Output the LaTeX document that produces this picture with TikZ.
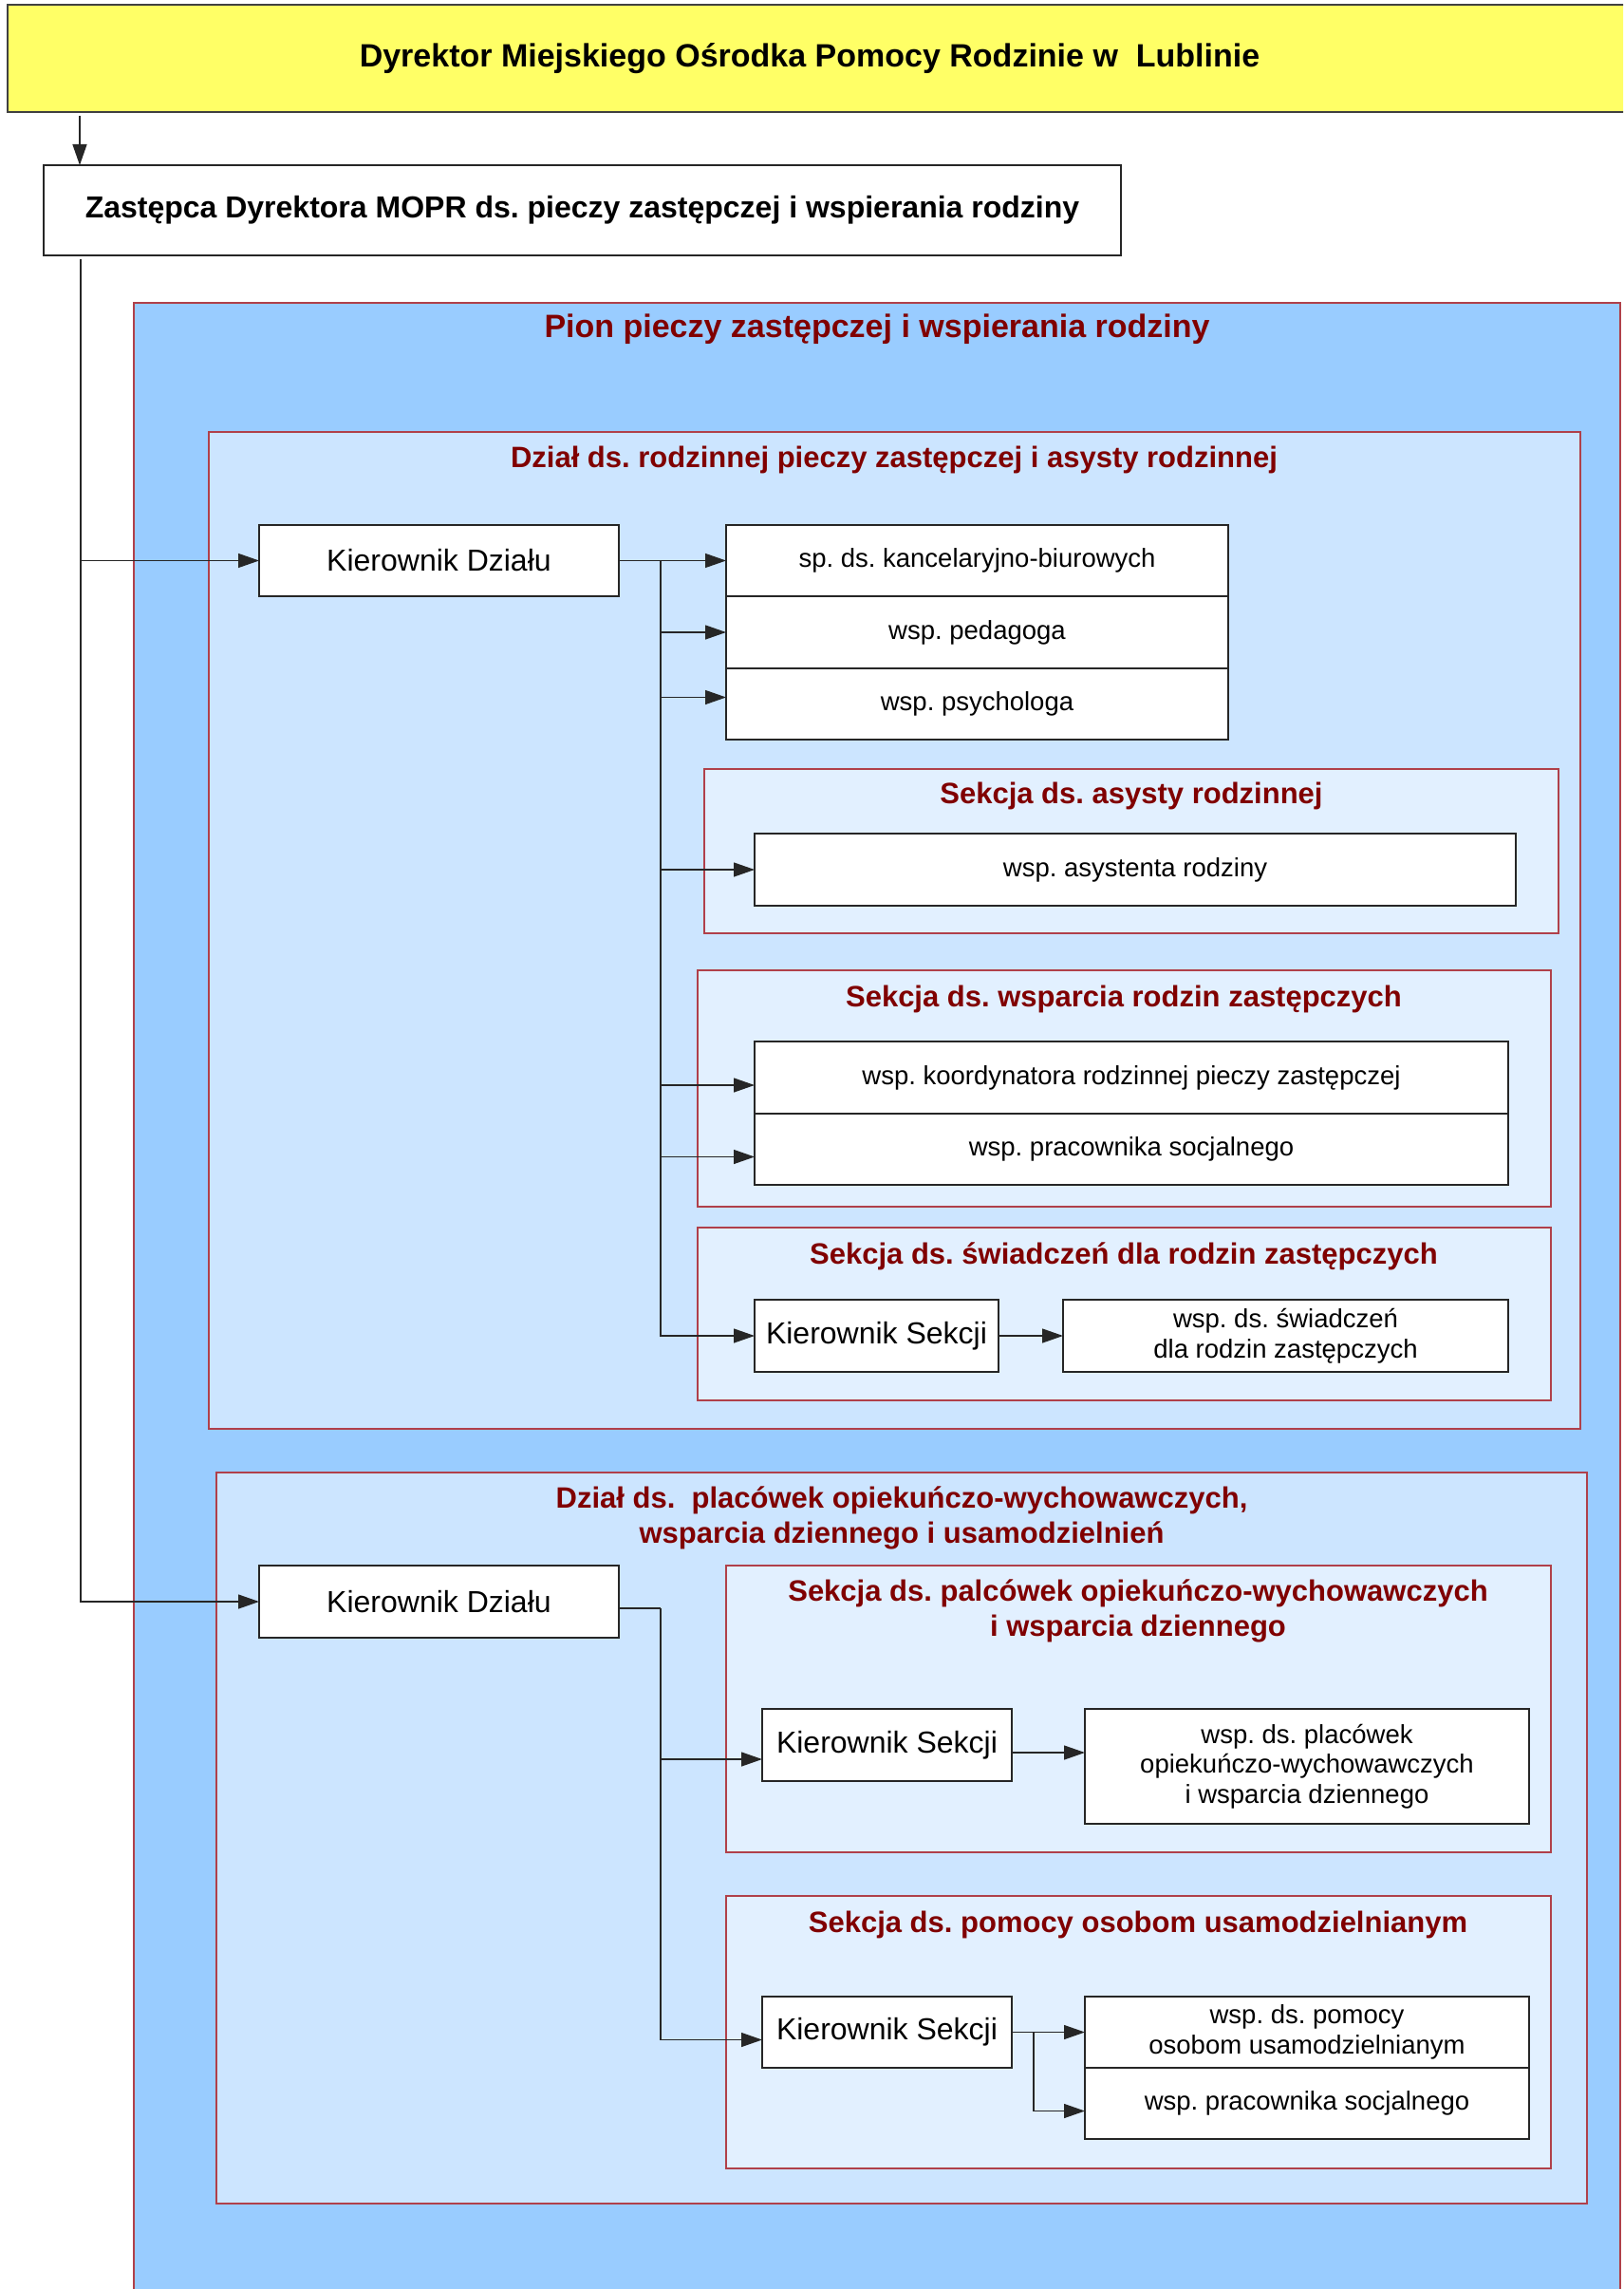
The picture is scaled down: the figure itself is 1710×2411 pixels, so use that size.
\documentclass[tikz,border=0pt]{standalone}
\usepackage{fontspec}
\setmainfont{Liberation Sans}
\usetikzlibrary{arrows.meta,calc}
\definecolor{pion}{HTML}{99CCFF}
\definecolor{dzial}{HTML}{CCE5FF}
\definecolor{sekcja}{HTML}{E2F0FF}
\definecolor{ttl}{HTML}{800000}
\definecolor{frame}{HTML}{B0404A}
\definecolor{yel}{HTML}{FFFF66}
\frenchspacing
\begin{document}
\begin{tikzpicture}[x=1pt,y=-1pt,
  cont/.style={draw=frame,line width=1.3pt},
  box/.style={draw=black!85,line width=1.6pt,fill=white,anchor=north west,inner sep=0pt,outer sep=0pt,align=center},
  ttltext/.style={text=ttl,font=\fontsize{31}{37}\selectfont\bfseries,align=center},
  lbl/.style={font=\fontsize{27.5}{31.5}\selectfont},
  klbl/.style={font=\fontsize{32}{36}\selectfont},
  conn/.style={line width=1.3pt,draw=black!85},
  arr/.style={conn,-{Triangle[length=22pt,width=15pt]}}
]
\useasboundingbox (0,0) rectangle (1710,2411);
\clip (0,0) rectangle (1710,2411);
\fill[white] (0,0) rectangle (1710,2411);

% top boxes
\node[box,fill=yel,draw=black!75,minimum width=1712pt,minimum height=113pt] (dyr) at (8,5) {};
\node[font=\fontsize{34}{40}\selectfont\bfseries] (dyrt) at (853,62) {Dyrektor Miejskiego Ośrodka Pomocy Rodzinie w\ \ Lublinie};
\node[box,minimum width=1135pt,minimum height=95pt,font=\fontsize{32}{38}\selectfont\bfseries] (zast) at (46,174) {Zastępca Dyrektora MOPR ds. pieczy zastępczej i wspierania rodziny};

% containers
\path[cont,fill=pion] (141,319) rectangle (1707,2430);
\node[ttltext,font=\fontsize{34}{40}\selectfont\bfseries] (tpion) at (924,347) {Pion pieczy zastępczej i wspierania rodziny};

\path[cont,fill=dzial] (220,455) rectangle (1665,1505);
\node[ttltext] (td1) at (942,484) {Dział ds. rodzinnej pieczy zastępczej i asysty rodzinnej};

\path[cont,fill=sekcja] (742,810) rectangle (1642,983);
\node[ttltext] (ts1) at (1192,838) {Sekcja ds. asysty rodzinnej};

\path[cont,fill=sekcja] (735,1022) rectangle (1634,1271);
\node[ttltext] (ts2) at (1184,1052) {Sekcja ds. wsparcia rodzin zastępczych};

\path[cont,fill=sekcja] (735,1293) rectangle (1634,1475);
\node[ttltext] (ts3) at (1184,1323) {Sekcja ds. świadczeń dla rodzin zastępczych};

\path[cont,fill=dzial] (228,1551) rectangle (1672,2321);
\node[ttltext] (td2) at (950,1599) {Dział ds.\ \ placówek opiekuńczo-wychowawczych,\\wsparcia dziennego i usamodzielnień};

\path[cont,fill=sekcja] (765,1649) rectangle (1634,1951);
\node[ttltext] (ts4) at (1199,1697) {Sekcja ds. palcówek opiekuńczo-wychowawczych\\i wsparcia dziennego};

\path[cont,fill=sekcja] (765,1997) rectangle (1634,2284);
\node[ttltext] (ts5) at (1199,2027) {Sekcja ds. pomocy osobom usamodzielnianym};

% boxes
\node[box,klbl,minimum width=379pt,minimum height=75pt] (kd1) at (273,553) {Kierownik Działu};
\node[box,lbl,minimum width=529pt,minimum height=75pt] (sp) at (765,553) {sp. ds. kancelaryjno-biurowych};
\node[box,lbl,minimum width=529pt,minimum height=76pt] (ped) at (765,628) {wsp. pedagoga};
\node[box,lbl,minimum width=529pt,minimum height=75pt] (psy) at (765,704) {wsp. psychologa};
\node[box,lbl,minimum width=802pt,minimum height=76pt] (asy) at (795,878) {wsp. asystenta rodziny};
\node[box,lbl,minimum width=794pt,minimum height=76pt] (koo) at (795,1097) {wsp. koordynatora rodzinnej pieczy zastępczej};
\node[box,lbl,minimum width=794pt,minimum height=75pt] (pr1) at (795,1173) {wsp. pracownika socjalnego};
\node[box,klbl,minimum width=257pt,minimum height=76pt] (ks1) at (795,1369) {Kierownik Sekcji};
\node[box,lbl,minimum width=469pt,minimum height=76pt] (swi) at (1120,1369) {wsp. ds. świadczeń\\dla rodzin zastępczych};

\node[box,klbl,minimum width=379pt,minimum height=76pt] (kd2) at (273,1649) {Kierownik Działu};
\node[box,klbl,minimum width=263pt,minimum height=76pt] (ks2) at (803,1800) {Kierownik Sekcji};
\node[box,lbl,minimum width=468pt,minimum height=121pt] (pla) at (1143,1800) {wsp. ds. placówek\\opiekuńczo-wychowawczych\\i wsparcia dziennego};
\node[box,klbl,minimum width=263pt,minimum height=75pt] (ks3) at (803,2103) {Kierownik Sekcji};
\node[box,lbl,minimum width=468pt,minimum height=75pt] (pom) at (1143,2103) {wsp. ds. pomocy\\osobom usamodzielnianym};
\node[box,lbl,minimum width=468pt,minimum height=75pt] (pr2) at (1143,2178) {wsp. pracownika socjalnego};

% connectors
\coordinate (za) at ($(zast.north west)+(38,0)$);
\coordinate (dz) at ($(za |- dyr.south)+(0,4)$);
\draw[arr] (dz) -- (za);
\coordinate (zb) at ($(zast.south west)+(39,4)$);
\draw[arr] (zb) |- (kd2.west);
\draw[arr] (zb |- kd1.west) -- (kd1.west);

\coordinate (b1) at ($(kd1.east)+(44,0)$);
\draw[arr] (kd1.east) -- (sp.west);
\draw[arr] (b1) |- (ks1.west);
\draw[arr] (b1 |- ped.west) -- (ped.west);
\draw[arr] ($(b1 |- psy.west)+(0,-7)$) -- ($(psy.west)+(0,-7)$);
\draw[arr] (b1 |- asy.west) -- (asy.west);
\draw[arr] ($(b1 |- koo.west)+(0,8)$) -- ($(koo.west)+(0,8)$);
\draw[arr] ($(b1 |- pr1.west)+(0,8)$) -- ($(pr1.west)+(0,8)$);
\draw[arr] (ks1.east) -- (swi.west |- ks1.east);

\coordinate (k2o) at ($(kd2.east)+(0,7)$);
\coordinate (b2) at ($(k2o)+(44,0)$);
\draw[conn] (k2o) -- (b2);
\draw[arr] (b2) |- ($(ks2.west)+(0,15)$);
\draw[arr] (b2) |- ($(ks3.west)+(0,8)$);
\coordinate (k2e) at ($(ks2.east)+(0,8)$);
\draw[arr] (k2e) -- (pla.west |- k2e);
\coordinate (b3) at ($(ks3.east)+(23,0)$);
\draw[arr] (ks3.east) -- (pom.west);
\draw[arr] (b3) |- ($(pr2.west)+(0,8)$);
\end{tikzpicture}
\end{document}
